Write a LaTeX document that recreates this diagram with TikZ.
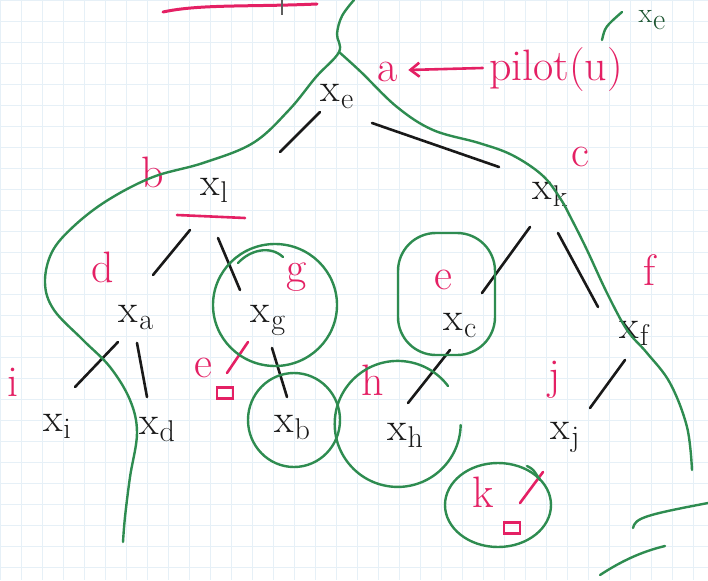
\documentclass[tikz,border=0pt]{standalone}
\usetikzlibrary{calc,arrows.meta}
\definecolor{gcol}{RGB}{46,140,80}
\definecolor{pcol}{RGB}{228,32,100}
\definecolor{gridc}{RGB}{230,240,247}
\definecolor{inkc}{RGB}{25,25,25}
\newcommand{\xsub}[1]{x\kern1pt\raisebox{-7pt}{\fontsize{30}{30}\selectfont #1}}
\begin{document}
\begin{tikzpicture}[x=1pt,y=-1pt,
  xn/.style={inner sep=0pt, text=inkc, font=\fontsize{40}{42}\selectfont},
  lab/.style={text=pcol, inner sep=0pt, font=\fontsize{44}{48}\selectfont},
  edge/.style={draw=inkc, line width=2.6pt, line cap=round},
  pk/.style={draw=pcol, line width=2.6pt, line cap=round},
  gr/.style={draw=gcol, line width=2.4pt, line cap=round},
  sq/.style={draw=pcol, line width=2.2pt, minimum width=16pt, minimum height=11pt, inner sep=0pt}]
\fill[white] (0,0) rectangle (708,580);
\useasboundingbox (0,0) rectangle (708,580);
\draw[gridc, line width=0.7pt, step=21pt] (0pt,-580pt) grid (708pt,0pt);

% tree nodes
\node[xn] (xe) at (337,97) {\xsub{e}};
\node[xn] (xl) at (214,190) {\xsub{l}};
\node[xn] (xk) at (550,194) {\xsub{k}};
\node[xn] (xa) at (136,318) {\xsub{a}};
\node[xn] (xg) at (268,320) {\xsub{g}};
\node[xn] (xc) at (460,326) {\xsub{c}};
\node[xn] (xf) at (634,333) {\xsub{f}};
\node[xn] (xi) at (57,426) {\xsub{i}};
\node[xn] (xd) at (157,430) {\xsub{d}};
\node[xn] (xb) at (292,428) {\xsub{b}};
\node[xn] (xh) at (405,435) {\xsub{h}};
\node[xn] (xj) at (565,437) {\xsub{j}};

% edges
\draw[edge] ($(xe)+(-17,15)$) -- ($(xl)+(66,-38)$);
\draw[edge] ($(xe)+(35,26)$) -- ($(xk)+(-51,-27)$);
\draw[edge] ($(xl)+(-24,40)$) -- ($(xa)+(17,-43)$);
\draw[edge] ($(xl)+(4,48)$) -- ($(xg)+(-28,-30)$);
\draw[edge] ($(xa)+(-18,24)$) -- ($(xi)+(18,-39)$);
\draw[edge] ($(xa)+(1,25)$) -- ($(xd)+(-10,-33)$);
\draw[edge] ($(xg)+(4,28)$) -- ($(xb)+(-5,-31)$);
\draw[edge] ($(xk)+(-20,33)$) -- ($(xc)+(22,-33)$);
\draw[edge] ($(xk)+(8,39)$) -- ($(xf)+(-36,-26)$);
\draw[edge] ($(xc)+(-10,24)$) -- ($(xh)+(3,-32)$);
\draw[edge] ($(xf)+(-9,27)$) -- ($(xj)+(25,-29)$);

% pink labels
\node[lab] (la) at (388,72) {a};
\node[lab] (pilot) at (556,70) {pilot(u)};
\node[lab] (lb) at (153,172) {b};
\node[lab] (lc) at (580,157) {c};
\node[lab] (ld) at (103,267) {d};
\node[lab] (lg) at (297,277) {g};
\node[lab] (le) at (443,280) {e};
\node[lab] (lf) at (650,270) {f};
\node[lab] (li) at (13,382) {i};
\node[lab] (le2) at (203,368) {e};
\node[lab] (lh) at (373,380) {h};
\node[lab] (lj) at (555,380) {j};
\node[lab] (lk) at (483,492) {k};
\node[sq] (sq1) at (225,393) {};
\node[sq] (sq2) at (512,528) {};

\draw[pk, -{Straight Barb[length=9pt,width=14pt]}] ($(pilot.west)+(-6,-2)$) -- ($(la.east)+(10,-2)$);
\draw[pk] ($(xl)+(-37,25)$) -- ($(xl)+(31,28)$);
\draw[pk] ($(xg)+(-20,22)$) -- ($(sq1)+(2,-20)$);
\draw[pk] ($(xj)+(-22,35)$) -- ($(sq2)+(8,-25)$);
\draw[pk, line width=3pt] (163,12) .. controls (200,4) and (250,7) .. (317,4);
\draw[draw=inkc!70, line width=2pt] (282,0) -- (282,15);

% green curves
\draw[gr] plot[smooth, tension=0.6] coordinates {(354,0) (342,16) (337,34) (339,52) (316,77) (289,110) (253,143) (203,163) (153,177) (108,200) (74,226) (52,252) (45,283) (54,310) (83,340) (110,367) (130,400) (137,433) (130,477) (125,517) (123,542)};
\draw[gr] plot[smooth, tension=0.6] coordinates {(339,52) (361,72) (397,107) (433,130) (479,143) (512,155) (542,175) (560,198) (572,220) (587,250) (607,293) (627,330) (647,353) (670,383) (687,427) (692,470)};
\draw[gr] (275,305) ellipse [x radius=62, y radius=61];
\draw[gr] (238,263) .. controls (250,250) and (270,245) .. (283,257);
\draw[gr] (294,420) ellipse [x radius=46, y radius=47];
\draw[gr] (448,386) arc[start angle=-37, end angle=-359, radius=63];
\draw[gr, rounded corners=38pt] (398,233) rectangle (495,355);
\draw[gr] (498,505) ellipse [x radius=53, y radius=42];
\draw[gr] (527,466) .. controls (533,469) .. (540,480);
\draw[gr] (602,40) .. controls (605,27) .. (622,12);
\node[inner sep=0pt, text=gcol!60!black, font=\fontsize{28}{30}\selectfont] (xe2) at (652,20) {\xsub{e}};
\draw[gr] (633,528) .. controls (635,518) and (645,515) .. (708,503);
\draw[gr] (600,575) .. controls (620,562) and (640,552) .. (665,546);
\end{tikzpicture}
\end{document}
